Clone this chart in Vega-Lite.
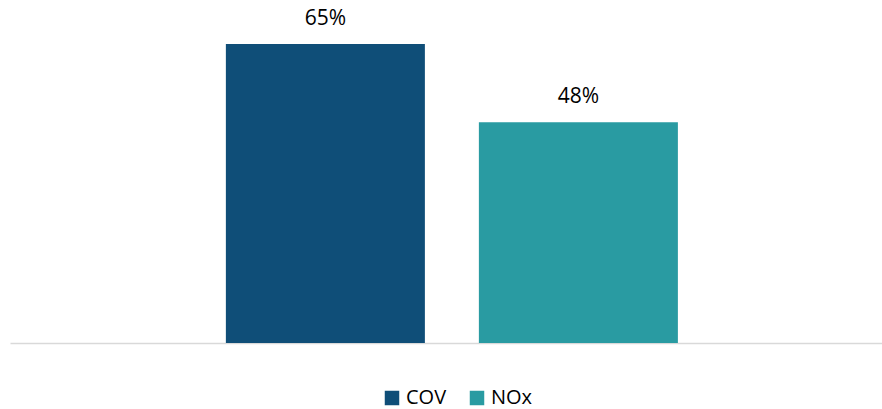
{
  "$schema": "https://vega.github.io/schema/vega-lite/v6.json",
  "autosize": "none",
  "width": 872,
  "height": 343,
  "padding": {"left": 10, "top": 0, "right": 0, "bottom": 66},
  "background": "white",
  "config": {"view": {"stroke": null}, "font": "Open Sans"},
  "data": {"values": [
    {"series": "COV", "value": 0.65, "label": "65%"},
    {"series": "NOx", "value": 0.48, "label": "48%"}
  ]},
  "encoding": {
    "x": {"field": "series", "type": "nominal",
      "scale": {"domain": ["COV", "NOx"], "paddingInner": 0.2134, "paddingOuter": 0.83, "align": 0.514},
      "axis": {"title": null, "labels": false, "ticks": false, "domainColor": "#d9d9d9", "domainWidth": 1.5}},
    "y": {"field": "value", "type": "quantitative", "scale": {"domain": [0, 0.7457], "nice": false}, "axis": null}
  },
  "layer": [
    {"mark": {"type": "bar"},
     "encoding": {
       "color": {"field": "series", "type": "nominal",
         "scale": {"domain": ["COV", "NOx"], "range": ["#0f4e78", "#299ba2"]},
         "legend": {"title": null, "orient": "none", "direction": "horizontal", "legendX": 372, "legendY": 388,
           "padding": 0, "symbolType": "square", "symbolSize": 210, "symbolStrokeWidth": 0,
           "labelFontSize": 20, "labelFont": "Open Sans", "labelColor": "#000000", "labelOffset": 4, "labelBaseline": "middle", "columnPadding": 20}}
     }},
    {"mark": {"type": "text", "baseline": "alphabetic", "dy": -19, "fontSize": 21, "font": "Open Sans", "color": "#000000"},
     "encoding": {"text": {"field": "label"}}}
  ]
}
